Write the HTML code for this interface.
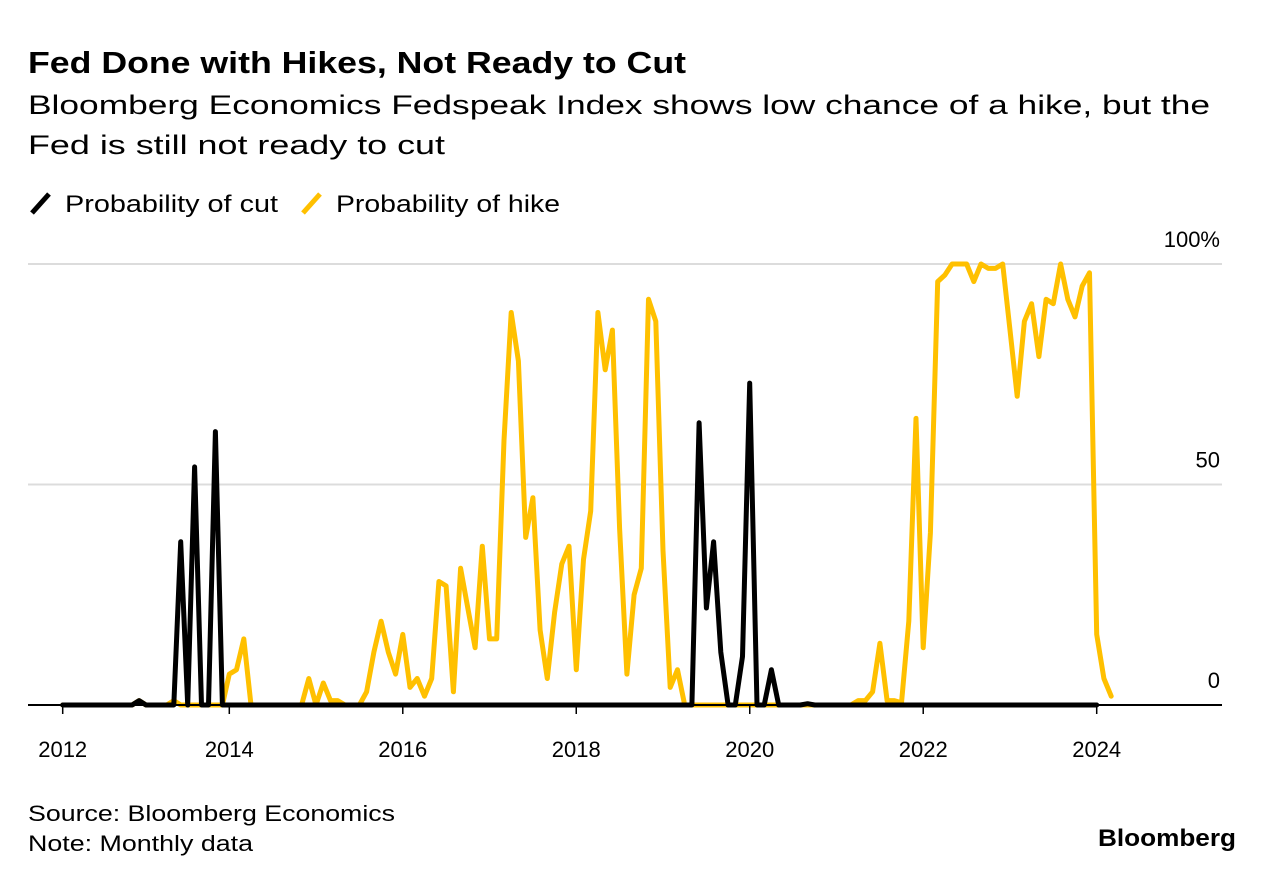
<!DOCTYPE html>
<html><head><meta charset="utf-8"><style>
html,body{margin:0;padding:0;background:#fff;}
svg{display:block;font-family:"Liberation Sans",Arial,sans-serif;}
</style></head><body>
<svg id="chart" width="1275" height="882" viewBox="0 0 1275 882">
<text x="28" y="73" font-size="31" font-weight="bold" fill="#000" textLength="658" lengthAdjust="spacingAndGlyphs">Fed Done with Hikes, Not Ready to Cut</text>
<text x="28" y="114" font-size="27" fill="#000" textLength="1182" lengthAdjust="spacingAndGlyphs">Bloomberg Economics Fedspeak Index shows low chance of a hike, but the</text>
<text x="28" y="154" font-size="27" fill="#000" textLength="417" lengthAdjust="spacingAndGlyphs">Fed is still not ready to cut</text>
<g>
<g>
<line x1="32" y1="213" x2="49" y2="194" stroke="#000" stroke-width="5"/>
<text x="65" y="212" font-size="24" textLength="213" lengthAdjust="spacingAndGlyphs">Probability of cut</text>
</g>
<g>
<line x1="303" y1="213" x2="320" y2="194" stroke="#ffc000" stroke-width="5"/>
<text x="336" y="212" font-size="24" textLength="224" lengthAdjust="spacingAndGlyphs">Probability of hike</text>
</g>
</g>
<g id="grid"></g>
<g id="series"></g>
<g id="xaxis"></g>
<text x="28" y="821" font-size="22" textLength="367" lengthAdjust="spacingAndGlyphs">Source: Bloomberg Economics</text>
<text x="28" y="851" font-size="22" textLength="225" lengthAdjust="spacingAndGlyphs">Note: Monthly data</text>
<text x="1236" y="846" font-size="24" font-weight="bold" text-anchor="end" textLength="138" lengthAdjust="spacingAndGlyphs">Bloomberg</text>
</svg>
<script>
const startYear = 2012;
const cutValues = [0,0,0,0,0,0,0,0,0,0,0,1,0,0,0,0,0,37,0,54,0,0,62,0,
0,0,0,0,0,0,0,0,0,0,0,0,0,0,0,0,0,0,0,0,0,0,0,0,
0,0,0,0,0,0,0,0,0,0,0,0,0,0,0,0,0,0,0,0,0,0,0,0,
0,0,0,0,0,0,0,0,0,0,0,0,0,0,0,0,0,64,22,37,12,0,0,11,
73,0,0,8,0,0,0,0,0.3,0,0,0,0,0,0,0,0,0,0,0,0,0,0,0,
0,0,0,0,0,0,0,0,0,0,0,0,0,0,0,0,0,0,0,0,0,0,0,0,0];
const hikeValues = [0,0,0,0,0,0,0,0,0,0,0,1,0,0,0,0,1,0,0,0,0,0,0,0,
7,8,15,0,0,0,0,0,0,0,0,6,0,5,1,1,0,0,0,3,12,19,12,7,
16,4,6,2,6,28,27,3,31,22,13,36,15,15,60,89,78,38,47,17,6,21,32,36,
8,33,44,89,76,85,40,7,25,31,92,87,35,4,8,0,0,0,0,0,0,0,0,0,
0,0,0,0,0,0,0,0,0,0,0,0,0,0,0,1,1,3,14,1,1,0.5,19,65,
13,39,96,97.5,100,100,100,96,100,99,99,100,85,70,87,91,79,92,91,100,92,88,95,98,
16,6,2];
const xTickYears = [2012,2014,2016,2018,2020,2022,2024];
const yTickValues = [0,50,100];
const yTickLabels = ["0","50","100%"];

const NS = "http://www.w3.org/2000/svg";
function xScale(t){
  if (t <= 2014) return 62.7 + (t-2012)*(229.3-62.7)/2;
  return 229.3 + (t-2014)*(1096.7-229.3)/10;
}
function yScale(v){ return 705 - v*(705-264)/100; }
function monthT(i){ return startYear + i/12; }
function mk(tag, attrs, parent){
  const el = document.createElementNS(NS, tag);
  for (const k in attrs) el.setAttribute(k, attrs[k]);
  parent.appendChild(el);
  return el;
}
const grid = document.getElementById('grid');
yTickValues.forEach((v,i)=>{
  if (v !== 0) {
    const gl = mk('line',{x1:28,x2:1222,y1:yScale(v),y2:yScale(v),stroke:'#dcdcdc','stroke-width':2},grid);
    
    
  }
  const lab = mk('text',{x:1220,y:yScale(v)-17,'font-size':22,'text-anchor':'end',fill:'#000'},grid);
  lab.textContent = yTickLabels[i];
  
  
});
const series = document.getElementById('series');
function pathFor(vals){
  return vals.map((v,i)=>(i?'L':'M')+xScale(monthT(i)).toFixed(1)+','+yScale(v).toFixed(1)).join(' ');
}
const hp = mk('path',{d:pathFor(hikeValues),fill:'none',stroke:'#ffc000','stroke-width':5,'stroke-linejoin':'round','stroke-linecap':'round'},series);


const base = mk('line',{x1:28,x2:1222,y1:yScale(0),y2:yScale(0),stroke:'#000','stroke-width':2},series);


const cp = mk('path',{d:pathFor(cutValues),fill:'none',stroke:'#000','stroke-width':5,'stroke-linejoin':'round','stroke-linecap':'round'},series);


const xaxis = document.getElementById('xaxis');
xTickYears.forEach(y=>{
  const x = xScale(y);
  const tk = mk('line',{x1:x,x2:x,y1:706,y2:714,stroke:'#000','stroke-width':1.5},xaxis);
  
  
  const tl = mk('text',{x:x,y:757,'font-size':22,'text-anchor':'middle',fill:'#000'},xaxis);
  tl.textContent = String(y);
  
  
});
</script>
</body></html>
